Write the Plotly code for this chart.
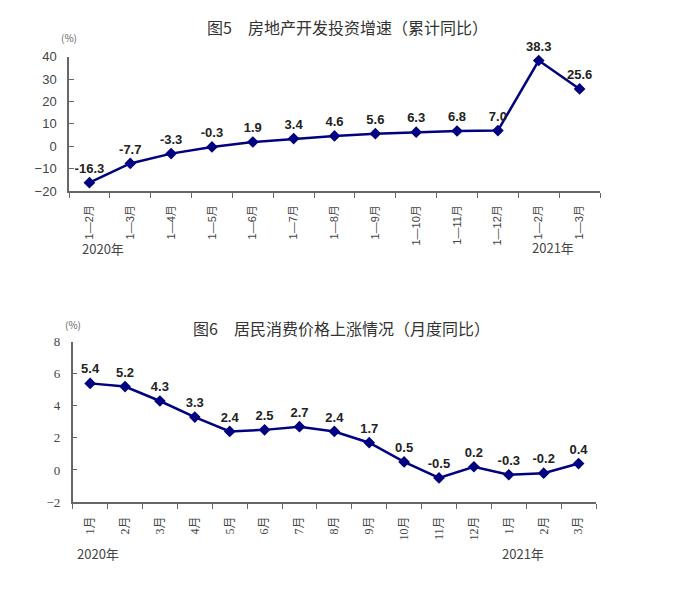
import plotly.graph_objects as go

W, H = 674, 589

# 图5 房地产开发投资增速（累计同比）
invest_labels = ["1—2月", "1—3月", "1—4月", "1—5月", "1—6月", "1—7月", "1—8月",
                 "1—9月", "1—10月", "1—11月", "1—12月", "1—2月", "1—3月"]
invest_values = [-16.3, -7.7, -3.3, -0.3, 1.9, 3.4, 4.6, 5.6, 6.3, 6.8, 7.0, 38.3, 25.6]
invest_text = ["-16.3", "-7.7", "-3.3", "-0.3", "1.9", "3.4", "4.6", "5.6", "6.3",
               "6.8", "7.0", "38.3", "25.6"]

# 图6 居民消费价格上涨情况（月度同比）
cpi_labels = ["1月", "2月", "3月", "4月", "5月", "6月", "7月", "8月", "9月", "10月",
              "11月", "12月", "1月", "2月", "3月"]
cpi_values = [5.4, 5.2, 4.3, 3.3, 2.4, 2.5, 2.7, 2.4, 1.7, 0.5, -0.5, 0.2, -0.3, -0.2, 0.4]
cpi_text = ["5.4", "5.2", "4.3", "3.3", "2.4", "2.5", "2.7", "2.4", "1.7", "0.5",
            "-0.5", "0.2", "-0.3", "-0.2", "0.4"]

NAVY = "#000080"
AXIS = "#666666"
TICKFONT = "#444444"
SANS = "Liberation Sans, Arial, Noto Sans CJK SC"
SERIF = "Liberation Serif, Noto Sans CJK SC"
CJK = "Noto Sans CJK SC, Liberation Sans"


def px(x):
    return x / W


def py(y):
    return 1 - y / H


fig = go.Figure()

for vals, txt, xa, ya in [(invest_values, invest_text, "x", "y"),
                          (cpi_values, cpi_text, "x2", "y2")]:
    fig.add_trace(go.Scatter(
        x=list(range(len(vals))), y=vals, text=txt,
        mode="lines+markers+text", textposition="top center", cliponaxis=False,
        textfont=dict(family=SANS, size=13, color="#222222", weight="bold"),
        line=dict(color=NAVY, width=2.5),
        marker=dict(symbol="diamond", size=9, color=NAVY),
        xaxis=xa, yaxis=ya, hoverinfo="skip",
    ))


def xaxis_cfg(labels, domain, anchor, family, size):
    n = len(labels)
    return dict(
        domain=domain, anchor=anchor, range=[-0.5, n - 0.5], automargin=False,
        tickmode="array", tickvals=list(range(n)), ticktext=labels,
        tickangle=-90, ticks="", ticklabelstandoff=8,
        tickfont=dict(family=family, size=size, color=TICKFONT),
        minor=dict(tickmode="array", tickvals=[i - 0.5 for i in range(n + 1)],
                   ticks="outside", ticklen=5, tickcolor=AXIS, tickwidth=1.2),
        showline=True, linecolor=AXIS, linewidth=1.5,
        showgrid=False, zeroline=False, fixedrange=True,
    )


def yaxis_cfg(rng, dtick, domain, anchor, family):
    return dict(
        domain=domain, anchor=anchor, range=rng, dtick=dtick, tick0=rng[0],
        automargin=False,
        ticks="inside", ticklen=5, tickcolor=AXIS, tickwidth=1.2,
        ticklabelstandoff=8,
        tickfont=dict(family=family, size=13, color=TICKFONT),
        showline=True, linecolor=AXIS, linewidth=1.5,
        showgrid=False, zeroline=False, fixedrange=True,
    )


fig.update_layout(
    width=W, height=H,
    margin=dict(l=0, r=0, t=0, b=0, autoexpand=False),
    paper_bgcolor="white", plot_bgcolor="white",
    showlegend=False,
    xaxis=xaxis_cfg(invest_labels, [px(69), px(600)], "y", SANS, 11),
    yaxis=yaxis_cfg([-20, 40], 10, [py(191), py(56.7)], "x", SANS),
    xaxis2=xaxis_cfg(cpi_labels, [px(72.7), px(596)], "y2", SERIF, 12),
    yaxis2=yaxis_cfg([-2, 8], 2, [py(502), py(341.7)], "x2", SERIF),
)

notes = [
    ("图5　房地产开发投资增速（累计同比）", 348, 27, 16, "#333333"),
    ("图6　居民消费价格上涨情况（月度同比）", 341, 328, 16, "#333333"),
    ("(%)", 69, 38, 10, "#666666"),
    ("(%)", 73, 324, 10, "#666666"),
    ("2020年", 103, 248, 13, TICKFONT),
    ("2021年", 553, 247, 13, TICKFONT),
    ("2020年", 98, 553, 13, TICKFONT),
    ("2021年", 523, 553, 13, TICKFONT),
]
for text, x, y, size, color in notes:
    fig.add_annotation(
        text=text, x=px(x), y=py(y), xref="paper", yref="paper",
        showarrow=False, xanchor="center", yanchor="middle",
        font=dict(family=CJK, size=size, color=color),
    )

# pin the figure to the window's top-left corner
pin = ("var d=document.getElementById('{plot_id}');"
       "d.style.position='fixed';d.style.left='0px';d.style.top='0px';"
       "document.body.style.margin='0';"
       "document.documentElement.style.overflow='hidden';")
fig.write_html("out.html", config={"displayModeBar": False}, post_script=pin)
